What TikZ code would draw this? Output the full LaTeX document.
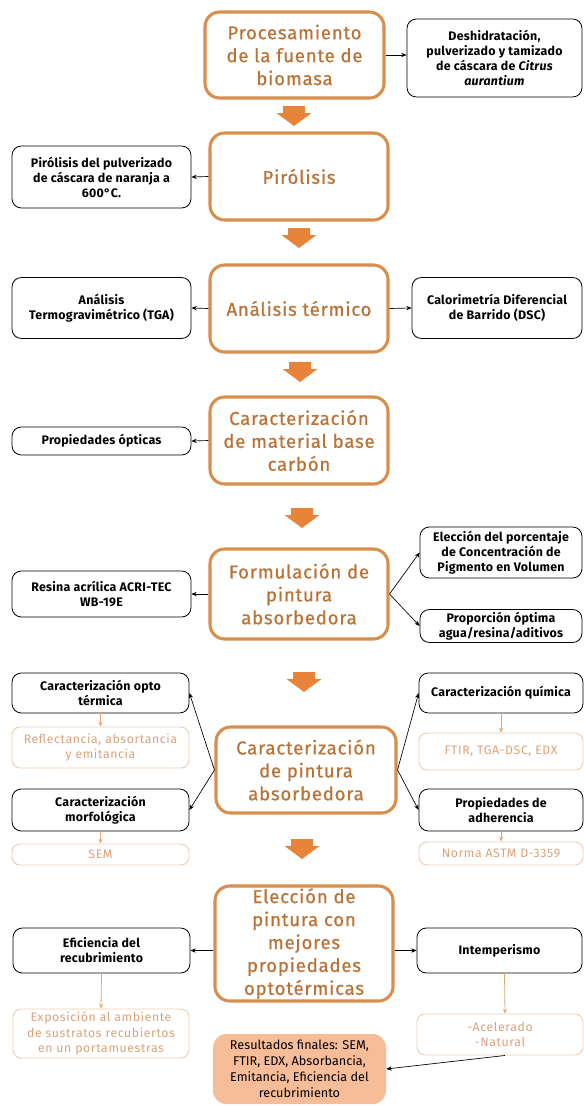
\documentclass[tikz,border=0pt]{standalone}
\usepackage{fontspec}
\setmainfont{Fira Sans}
\newfontfamily\titlefont{Fira Sans}[LetterSpace=4,FakeBold=0.6]
\newfontfamily\sidefont{Fira Sans}[LetterSpace=2]
\newfontfamily\faintfont{Fira Sans}[LetterSpace=5]
\usetikzlibrary{arrows.meta}
\definecolor{mainborder}{RGB}{216,142,76}
\definecolor{maintext}{RGB}{186,115,55}
\definecolor{barrowcol}{RGB}{232,131,58}
\definecolor{faintborder}{RGB}{239,205,179}
\definecolor{fainttext}{RGB}{219,162,122}
\definecolor{orangeline}{RGB}{227,167,116}
\definecolor{resfill}{RGB}{247,189,152}
\newcommand\blockarr[2]{\fill[barrowcol] (#1-11,#2) -- (#1+11,#2) -- (#1+11,#2+7) -- (#1+17.5,#2+7) -- (#1,#2+20) -- (#1-17.5,#2+7) -- (#1-11,#2+7) -- cycle;}
\begin{document}
\begin{tikzpicture}[x=0.75pt,y=-0.75pt,
 wh/.style 2 args={minimum width=#1*0.75pt,minimum height=#2*0.75pt},
 mainbox/.style={draw=mainborder,line width=2.3pt,rounded corners=11pt,text=maintext,align=center,inner sep=0pt,font=\titlefont\fontsize{14}{17.2}\selectfont},
 sidebox/.style={draw=black,line width=0.6pt,rounded corners=7pt,align=center,inner sep=0pt,font=\sidefont\bfseries\fontsize{9.3}{11.25}\selectfont},
 faintbox/.style={draw=faintborder,line width=0.7pt,rounded corners=6pt,align=center,inner sep=0pt,text=fainttext,font=\faintfont\fontsize{9.2}{11.5}\selectfont},
 resbox/.style={fill=resfill,rounded corners=10pt,align=center,inner sep=0pt,font=\fontsize{9.5}{12}\selectfont},
 conn/.style={draw=black,line width=0.5pt,-{Stealth[length=4pt,width=3.2pt]}},
 oconn/.style={draw=orangeline,line width=0.6pt,-{Stealth[length=3.5pt,width=3pt]}},
]
\useasboundingbox[fill=white] (0,0) rectangle (584,1106);

% main boxes
\node[mainbox,wh={179}{86}] (m1) at (294.5,55) {Procesamiento\\de la fuente de\\biomasa};
\node[mainbox,wh={178}{87}] (m2) at (299,176.5) {Pirólisis};
\node[mainbox,wh={178}{87}] (m3) at (299,308.5) {Análisis térmico};
\node[mainbox,wh={178}{87}] (m4) at (299,440.5) {Caracterización\\de material base\\carbón};
\node[mainbox,wh={178}{90}] (m5) at (299,594) {Formulación de\\pintura\\absorbedora};
\node[mainbox,wh={180}{86}] (m6) at (306,770) {Caracterización\\de pintura\\absorbedora};
\node[mainbox,wh={178}{115}] (m7) at (304,943.5) {\raisebox{0pt}[\height][\depth]{}Elección de\\pintura con\\mejores\\propiedades\\optotérmicas};

% block arrows
\blockarr{294}{106}
\blockarr{299}{228}
\blockarr{300}{362}
\blockarr{302}{508}
\blockarr{304}{672}
\blockarr{302}{839}

% side boxes
\node[sidebox,wh={175}{78}] (s1) at (494.5,58) {Deshidratación,\\pulverizado y tamizado\\de cáscara de \textit{Citrus}\\\textit{aurantium}};
\node[sidebox,wh={179}{62}] (s2) at (101.5,177) {Pirólisis del pulverizado\\de cáscara de naranja a\\600°C.};
\node[sidebox,wh={179}{61}] (s3l) at (101.5,308) {Análisis\\Termogravimétrico (TGA)};
\node[sidebox,wh={170}{61}] (s3r) at (497,308) {Calorimetría Diferencial\\de Barrido (DSC)};
\node[sidebox,wh={179}{28}] (s4) at (101.5,441) {Propiedades ópticas};
\node[sidebox,wh={179}{46}] (s5l) at (101.5,594) {Resina acrílica ACRI-TEC\\WB-19E};
\node[sidebox,wh={162}{51}] (s5r1) at (501,552.5) {Elección del porcentaje\\de Concentración de\\Pigmento en Volumen};
\node[sidebox,wh={162}{33}] (s5r2) at (501,626) {Proporción óptima\\agua/resina/aditivos};

\node[sidebox,wh={177}{40}] (L1) at (100.5,693) {Caracterización opto\\térmica};
\node[faintbox,wh={177}{41}] (L1f) at (100.5,747.5) {Reflectancia, absortancia\\y emitancia};
\node[sidebox,wh={177}{42}] (L2) at (100.5,810) {Caracterización\\morfológica};
\node[faintbox,wh={177}{21}] (L2f) at (100.5,854.5) {SEM};
\node[sidebox,wh={164}{40}] (R1) at (501,693) {Caracterización química};
\node[faintbox,wh={164}{37}] (R1f) at (501,751.5) {FTIR, TGA-DSC, EDX};
\node[sidebox,wh={164}{42}] (R2) at (501,810) {Propiedades de\\adherencia};
\node[faintbox,wh={164}{23}] (R2f) at (501,853.5) {Norma ASTM D-3359};

\node[sidebox,wh={177}{45}] (E) at (101.5,950.5) {Eficiencia del\\recubrimiento};
\node[sidebox,wh={165}{45}] (I) at (499.5,950.5) {Intemperismo};
\node[faintbox,wh={176}{49}] (Ef) at (101,1033.5) {Exposición al ambiente\\de sustratos recubiertos\\en un portamuestras};
\node[faintbox,wh={166}{41}] (If) at (500,1034.5) {-Acelerado\\-Natural};
\node[resbox,wh={173}{70}] (res) at (299.5,1069) {Resultados finales: SEM,\\FTIR, EDX, Absorbancia,\\Emitancia, Eficiencia del\\recubrimiento};

% connectors
\draw[conn] (m1.east |- 0,55) -- (s1.west |- 0,55);
\draw[conn] (m2.west) -- (s2.east);
\draw[conn] (m3.west) -- (s3l.east);
\draw[conn] (m3.east) -- (s3r.west);
\draw[conn] (m4.west) -- (s4.east);
\draw[conn] (m5.west) -- (s5l.east);
\draw[conn] (m5.east) -- (s5r1.west);
\draw[conn] (m5.east) -- (s5r2.west);
\draw[conn] (m6.west) -- (L1.east);
\draw[conn] (m6.west) -- (L2.east);
\draw[conn] (m6.east) -- (R1.west);
\draw[conn] (m6.east) -- (R2.west);
\draw[oconn] (L1.south) -- (L1f.north);
\draw[oconn] (L2.south) -- (L2f.north);
\draw[oconn] (R1.south) -- (R1f.north);
\draw[oconn] (R2.south) -- (R2f.north);
\draw[conn] (m7.west |- E.east) -- (E.east);
\draw[conn] (m7.east |- I.west) -- (I.west);
\draw[oconn] (E.south) -- (Ef.north);
\draw[oconn] ([xshift=3.75pt]I.south) -- ([xshift=3.75pt]If.north);
\draw[conn] ([xshift=3.75pt]If.south) -- (res.east);
\end{tikzpicture}
\end{document}
